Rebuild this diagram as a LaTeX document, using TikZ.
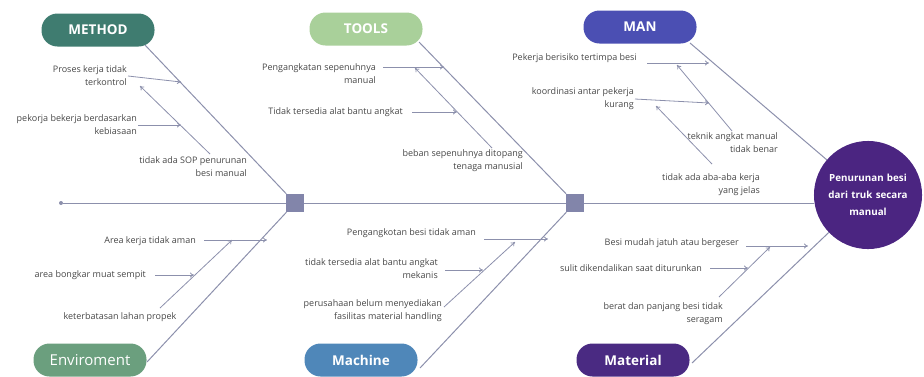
\documentclass[tikz,border=0pt]{standalone}
\usepackage{fontspec}
\setmainfont{Open Sans}
\usetikzlibrary{arrows.meta}

\definecolor{bonegray}{HTML}{8C90AC}
\definecolor{txtgray}{HTML}{474747}
\definecolor{methodc}{HTML}{3F7C70}
\definecolor{toolsc}{HTML}{A9D09A}
\definecolor{manc}{HTML}{4B4FB3}
\definecolor{envc}{HTML}{6B9F7E}
\definecolor{machinec}{HTML}{4F87B9}
\definecolor{materialc}{HTML}{4A2A82}
\definecolor{headc}{HTML}{4B2581}
\definecolor{jointc}{HTML}{8285AA}

\tikzset{
  category/.style={rounded corners=16pt, minimum width=113pt, minimum height=33pt,
    text=white, font=\fontsize{13.5}{15}\selectfont\bfseries},
  cause/.style={font=\fontsize{9}{13}\selectfont, text=txtgray, align=right, inner sep=1pt, anchor=east},
  bone/.style={draw=bonegray, line width=1pt},
  subarrow/.style={draw=bonegray, line width=0.8pt, -{To[length=4pt,width=5pt]}},
  joint/.style={fill=jointc, minimum size=18pt, inner sep=0pt},
}

\begin{document}
\begin{tikzpicture}[x=1pt,y=-1pt]
        \useasboundingbox (0,0) rectangle (924,376);

        % Spine and head
        \node[circle, fill=bonegray, inner sep=0pt, minimum size=4pt] (tail) at (61,203) {};
        \node[joint] (jointA) at (295,203) {};
        \node[joint] (jointB) at (575,203) {};
        \node[circle, fill=headc, minimum size=102pt, text width=90pt, align=center, text=white,
              font=\fontsize{9.8}{17}\selectfont\bfseries] (head) at (868,195) {Penurunan besi\\dari truk secara\\manual};
        \draw[bone] (tail) -- (jointA) -- (jointB) -- (head.west |- jointB);

        % Categories
        \node[category, fill=methodc] (method) at (98,30) {METHOD};
        \node[category, fill=toolsc] (tools) at (366,29) {TOOLS};
        \node[category, fill=manc] (man) at (640,27) {MAN};
        \node[category, fill=envc, font=\fontsize{15}{17}\selectfont] (env) at (90,360) {Enviroment};
        \node[category, fill=machinec] (machine) at (361,360) {Machine};
        \node[category, fill=materialc] (material) at (633,360) {Material};

        % Main bones
        \draw[bone] (145,45) -- (jointA);
        \draw[bone] (419,42) -- (jointB);
        \draw[bone] (690,43) -- (head);
        \draw[bone] (147,362) -- (jointA);
        \draw[bone] (420,368) -- (jointB);
        \draw[bone] (692,363) -- (head);

        % Method causes
        \node[cause] (m1) at (128,76) {Proses kerja tidak\\terkontrol};
        \node[cause] (m2) at (138,125) {pekorja bekerja berdasarkan\\kebiasaan};
        \node[cause] (m3) at (248,167) {tidak ada SOP penurunan\\besi manual};
        \coordinate (m1e) at (181,82);
        \coordinate (m2e) at (181,125);
        \coordinate (m3s) at (210,154);
        \coordinate (m3e) at (140,86);
        \draw[subarrow] (m1.east) -- (m1e);
        \draw[subarrow] (m2.east) -- (m2e);
        \draw[subarrow] (m3s) -- (m3e);

        % Tools causes
        \node[cause] (t1) at (377,74) {Pengangkatan sepenuhnya\\manual};
        \node[cause] (t2) at (404,112) {Tidak tersedia alat bantu angkat};
        \node[cause] (t3) at (524,161) {beban sepenuhnya ditopang\\tenaga manusial};
        \coordinate (t1s) at (383,67);
        \coordinate (t1e) at (444,67);
        \coordinate (t2s) at (412,112);
        \coordinate (t2e) at (457,112);
        \coordinate (t3s) at (492,148);
        \coordinate (t3e) at (415,68);
        \draw[subarrow] (t1s) -- (t1e);
        \draw[subarrow] (t2s) -- (t2e);
        \draw[subarrow] (t3s) -- (t3e);

        % Man causes
        \node[cause] (a1) at (638,58) {Pekerja berisiko tertimpa besi};
        \node[cause] (a2) at (635,99) {koordinasi antar pekerja\\kurang};
        \node[cause] (a3) at (779,143) {teknik angkat manual\\tidak benar};
        \node[cause] (a4) at (761,185) {tidak ada aba-aba kerja\\yang jelas};
        \coordinate (a1s) at (647,63);
        \coordinate (a1e) at (709,63);
        \coordinate (a2e) at (709,103);
        \coordinate (a3s) at (732,131);
        \coordinate (a3e) at (677,65);
        \coordinate (a4s) at (712,164);
        \coordinate (a4e) at (656,106);
        \draw[subarrow] (a1s) -- (a1e);
        \draw[subarrow] (a2.east) -- (a2e);
        \draw[subarrow] (a3s) -- (a3e);
        \draw[subarrow] (a4s) -- (a4e);

        % Enviroment causes
        \node[cause] (e1) at (197,241) {Area kerja tidak aman};
        \node[cause] (e2) at (147,275) {area bongkar muat sempit};
        \node[cause, anchor=center] (e3) at (120,317) {keterbatasan lahan propek};
        \coordinate (e1s) at (204,240);
        \coordinate (e1e) at (267,240);
        \coordinate (e2s) at (155,275);
        \coordinate (e2e) at (194,275);
        \coordinate (e3s) at (160,308);
        \coordinate (e3e) at (232,240);
        \draw[subarrow] (e1s) -- (e1e);
        \draw[subarrow] (e2s) -- (e2e);
        \draw[subarrow] (e3s) -- (e3e);

        % Machine causes
        \node[cause] (c1) at (477,233) {Pengangkotan besi tidak aman};
        \node[cause] (c2) at (439,269) {tidak tersedia alat bantu angkat\\mekanis};
        \node[cause] (c3) at (443,311) {perusahaan belum menyediakan\\fasilitas material handling};
        \coordinate (c1s) at (484,239);
        \coordinate (c1e) at (548,239);
        \coordinate (c2s) at (445,270);
        \coordinate (c2e) at (483,270);
        \coordinate (c3s) at (444,307);
        \coordinate (c3e) at (515,242);
        \draw[subarrow] (c1s) -- (c1e);
        \draw[subarrow] (c2s) -- (c2e);
        \draw[subarrow] (c3s) -- (c3e);

        % Material causes
        \node[cause] (r1) at (740,243) {Besi mudah jatuh atau bergeser};
        \node[cause] (r2) at (703,268) {sulit dikendalikan saat diturunkan};
        \node[cause] (r3) at (724,314) {berat dan panjang besi tidak\\seragam};
        \coordinate (r1s) at (746,246);
        \coordinate (r1e) at (808,246);
        \coordinate (r2s) at (710,268);
        \coordinate (r2e) at (748,268);
        \coordinate (r3s) at (719,297);
        \coordinate (r3e) at (770,247);
        \draw[subarrow] (r1s) -- (r1e);
        \draw[subarrow] (r2s) -- (r2e);
        \draw[subarrow] (r3s) -- (r3e);
    \end{tikzpicture}
\end{document}
